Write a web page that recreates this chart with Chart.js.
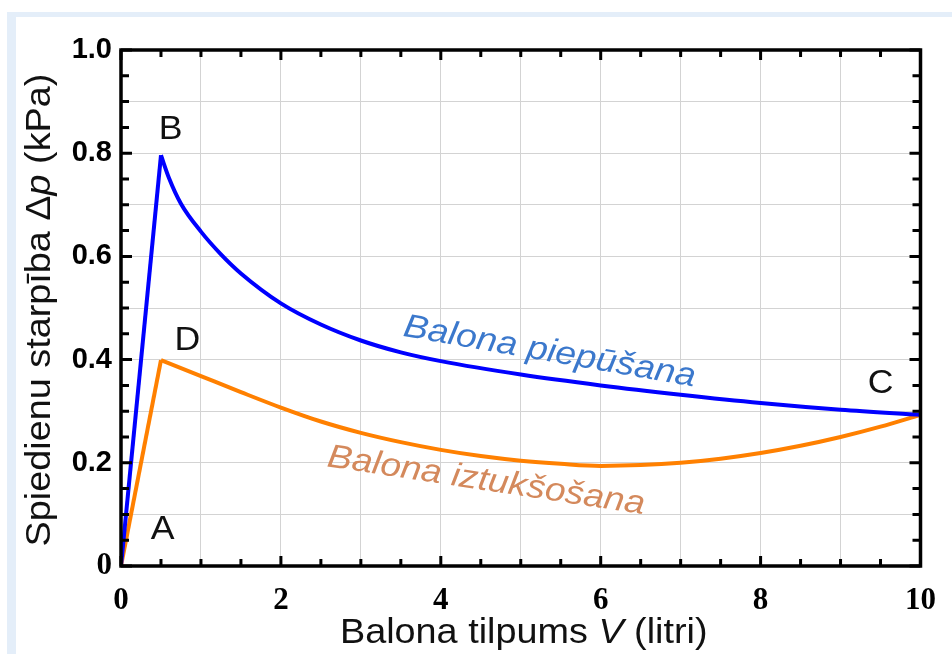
<!DOCTYPE html>
<html>
<head>
<meta charset="utf-8">
<script src="https://cdn.jsdelivr.net/npm/chart.js@4.4.1/dist/chart.umd.min.js"></script>
<style>
  html, body { margin: 0; padding: 0; background: #fff; }
  #wrap { width: 952px; height: 654px; }
</style>
</head>
<body>
<div id="wrap"><canvas id="chart" width="952" height="654"></canvas></div>
<script>
// balloon inflating (blue) and deflating (orange)
const riseVolumes = [0, 0.5];
const inflateRise = [0, 0.796];
const deflateRise = [0, 0.399];

const inflateVolumes = [0.5, 0.6, 0.75, 1, 1.25, 1.5, 2, 2.5, 3, 3.5, 4, 5, 6, 7, 8, 9, 10];
const inflatePressure = [0.796, 0.752, 0.702, 0.648, 0.604, 0.567, 0.509, 0.468, 0.437, 0.414, 0.397, 0.371, 0.35, 0.332, 0.316, 0.303, 0.293];

const deflateVolumes = [0.5, 1, 1.5, 2, 2.5, 3, 3.5, 4, 4.5, 5, 5.5, 6, 6.5, 7, 7.5, 8, 8.5, 9, 9.5, 10];
const deflatePressure = [0.399, 0.368, 0.337, 0.307, 0.28, 0.258, 0.24, 0.225, 0.213, 0.204, 0.198, 0.194, 0.1955, 0.2, 0.208, 0.219, 0.233, 0.25, 0.27, 0.293];

const xLabelValues = [0, 2, 4, 6, 8, 10];
const yLabelValues = [0, 0.2, 0.4, 0.6, 0.8, 1.0];
const yLabelText = ['0', '0.2', '0.4', '0.6', '0.8', '1.0'];

// point labels: [text, volume, pressure]
const pointLabels = [['A', 0.52, 0.07], ['B', 0.62, 0.845], ['C', 9.5, 0.353], ['D', 0.83, 0.436]];
const curveLabels = [
  { text: 'Balona piepūšana', v: 5.34, p: 0.397, angle: 9.9, color: '#3b78cc' },
  { text: 'Balona iztukšošana', v: 4.55, p: 0.147, angle: 8.6, color: '#d4895c' }
];

const BLUE = '#0000ff';
const ORANGE = '#ff8000';

const pts = (xs, ys) => xs.map((x, i) => ({ x: x, y: ys[i] }));
const near = (v, step) => Math.abs(v / step - Math.round(v / step)) < 1e-6;

function drawRich(ctx, parts, x, y, angle, stretch) {
  ctx.save();
  ctx.translate(x, y);
  ctx.rotate(angle);
  ctx.scale(stretch, 1);
  let total = 0;
  parts.forEach(p => { ctx.font = p.font; p.w = ctx.measureText(p.text).width; total += p.w; });
  let cx = -total / 2;
  ctx.textAlign = 'left';
  ctx.textBaseline = 'alphabetic';
  parts.forEach(p => {
    ctx.font = p.font;
    ctx.fillStyle = p.color || '#111';
    ctx.fillText(p.text, cx, 0);
    cx += p.w;
  });
  ctx.restore();
}

const decor = {
  id: 'decor',
  beforeDraw(chart) {
    const ctx = chart.ctx;
    ctx.save();
    ctx.fillStyle = '#e4eef9';
    ctx.fillRect(7, 12, 952, 654);
    ctx.fillStyle = '#fff';
    ctx.fillRect(16, 17, 952, 654);
    ctx.restore();
  },
  afterDatasetsDraw(chart) {
    const { ctx, chartArea: a, scales: { x, y } } = chart;
    ctx.save();
    ctx.strokeStyle = '#000';
    ctx.lineWidth = 3;
    ctx.beginPath();
    x.ticks.forEach(t => {
      const px = x.getPixelForValue(t.value);
      const len = near(t.value, 2) ? 10 : 7;
      ctx.moveTo(px, a.bottom); ctx.lineTo(px, a.bottom - len);
      ctx.moveTo(px, a.top); ctx.lineTo(px, a.top + len);
    });
    y.ticks.forEach(t => {
      const py = y.getPixelForValue(t.value);
      const len = near(t.value, 0.2) ? 11 : 8;
      ctx.moveTo(a.left, py); ctx.lineTo(a.left + len, py);
      ctx.moveTo(a.right, py); ctx.lineTo(a.right - len, py);
    });
    ctx.stroke();
    ctx.lineWidth = 3.5;
    ctx.lineJoin = 'miter';
    ctx.strokeRect(a.left, a.top, a.width, a.height);

    // A B C D
    ctx.fillStyle = '#111';
    ctx.font = '33px "Liberation Sans", Arial, sans-serif';
    ctx.textAlign = 'center';
    ctx.textBaseline = 'middle';
    pointLabels.forEach(([t, v, p]) => {
      ctx.save();
      ctx.translate(x.getPixelForValue(v), y.getPixelForValue(p));
      ctx.scale(1.08, 1);
      ctx.fillText(t, 0, 0);
      ctx.restore();
    });

    curveLabels.forEach(c => {
      drawRich(ctx, [{ text: c.text, font: 'italic 33px "Liberation Sans", Arial, sans-serif', color: c.color }],
        x.getPixelForValue(c.v), y.getPixelForValue(c.p), c.angle * Math.PI / 180, 1.12);
    });

    // axis titles
    const sans = '35px "Liberation Sans", Arial, sans-serif';
    const ital = 'italic 35px "Liberation Sans", Arial, sans-serif';
    drawRich(ctx, [
      { text: 'Balona tilpums ', font: sans },
      { text: 'V', font: ital },
      { text: ' (litri)', font: sans }
    ], (a.left + a.right) / 2 + 3, 643, 0, 1.08);
    drawRich(ctx, [
      { text: 'Spiedienu starpība Δ', font: sans },
      { text: 'p', font: ital },
      { text: ' (kPa)', font: sans }
    ], 50, 310, -Math.PI / 2, 1.08);
    ctx.restore();
  }
};

const lineStyle = { borderWidth: 4, pointRadius: 0, fill: false };

new Chart(document.getElementById('chart'), {
  type: 'line',
  data: {
    datasets: [
      { ...lineStyle, data: pts(riseVolumes, inflateRise), borderColor: BLUE, tension: 0 },
      { ...lineStyle, data: pts(inflateVolumes, inflatePressure), borderColor: BLUE, cubicInterpolationMode: 'monotone' },
      { ...lineStyle, data: pts(riseVolumes, deflateRise), borderColor: ORANGE, tension: 0 },
      { ...lineStyle, data: pts(deflateVolumes, deflatePressure), borderColor: ORANGE, cubicInterpolationMode: 'monotone' }
    ]
  },
  options: {
    responsive: false,
    animation: false,
    events: [],
    layout: { padding: { top: 50, right: 25, left: 0, bottom: 0 } },
    plugins: { legend: { display: false }, tooltip: { enabled: false } },
    scales: {
      x: {
        type: 'linear', min: 0, max: 10,
        afterFit: s => { s.height = 88; },
        border: { display: false },
        grid: {
          drawTicks: false,
          lineWidth: 1,
          color: c => (c.tick && near(c.tick.value, 1) && c.tick.value > 0 && c.tick.value < 10) ? '#d3d3d3' : 'rgba(0,0,0,0)'
        },
        ticks: {
          stepSize: 0.5, autoSkip: false, maxRotation: 0, padding: 16, color: '#000',
          font: { family: '"Liberation Serif", "Times New Roman", serif', size: 31, weight: 'bold' },
          callback: v => xLabelValues.some(l => Math.abs(l - v) < 1e-6) ? String(v) : ''
        }
      },
      y: {
        type: 'linear', min: 0, max: 1,
        afterFit: s => { s.width = 121; },
        border: { display: false },
        grid: {
          drawTicks: false,
          lineWidth: 1,
          color: c => (c.tick && near(c.tick.value, 0.1) && c.tick.value > 0.01 && c.tick.value < 0.99) ? '#d3d3d3' : 'rgba(0,0,0,0)'
        },
        ticks: {
          stepSize: 0.05, autoSkip: false, padding: 9, color: '#000',
          font: c => (c.tick && Math.abs(c.tick.value) < 1e-6)
            ? { family: '"Liberation Serif", "Times New Roman", serif', size: 31, weight: 'bold' }
            : { family: '"Liberation Sans", Arial, sans-serif', size: 29, weight: 'bold' },
          callback: v => {
            const i = yLabelValues.findIndex(l => Math.abs(l - v) < 1e-6);
            return i >= 0 ? yLabelText[i] : '';
          }
        }
      }
    }
  },
  plugins: [decor]
});
</script>
</body>
</html>
